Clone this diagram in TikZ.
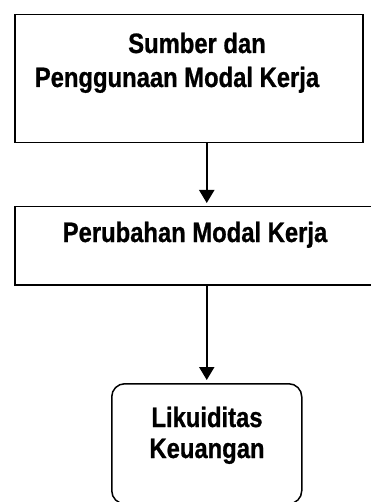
\documentclass[tikz,border=0pt]{standalone}
\usepackage{fontspec}
\setmainfont{Liberation Sans}[FakeStretch=0.85,BoldFeatures={FakeBold=0.8}]
\usetikzlibrary{arrows.meta,positioning}
\tikzset{
	kotak/.style={draw,line width=1.5pt,inner sep=0pt,anchor=north west},
	teks/.style={font=\fontsize{28}{34}\selectfont\bfseries,inner sep=0pt,anchor=base},
	panah/.style={line width=2pt,shorten >=3pt,-{Triangle[width=15pt,length=13pt]}}
}
\begin{document}
\begin{tikzpicture}[x=1pt,y=-1pt]
	\useasboundingbox (0,0) rectangle (370,502);
	\node[kotak,minimum width=348pt,minimum height=128pt] (sumber) at (14,14) {};
	\node[kotak,minimum width=358pt,minimum height=78pt] (perubahan) at (14,206) {};
	\node[kotak,rounded corners=13pt,minimum width=190pt,minimum height=120pt] (likuiditas) at (111,383) {};
	\node[teks] (sumberA) at (197,53) {Sumber dan};
	\node[teks] (sumberB) at (177,87) {Penggunaan Modal Kerja};
	\node[teks] (perubahanA) at (195,242) {Perubahan Modal Kerja};
	\node[teks] (likuiditasA) at (207,427) {Likuiditas};
	\node[teks] (likuiditasB) at (207,458) {Keuangan};
	\draw[panah] (sumber.south -| likuiditas.north) -- (perubahan.north -| likuiditas.north);
	\draw[panah] (perubahan.south -| likuiditas.north) -- (likuiditas.north);
\end{tikzpicture}
\end{document}
